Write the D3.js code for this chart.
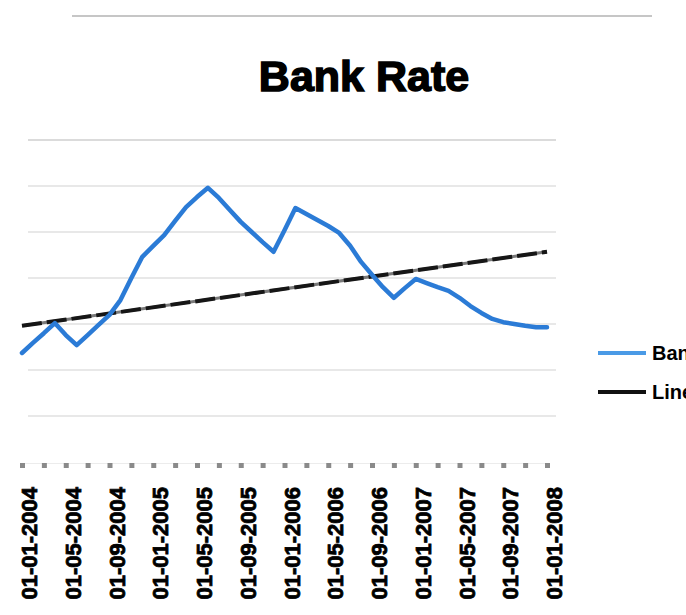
<!DOCTYPE html>
<html>
<head>
<meta charset="utf-8">
<script src="https://cdn.jsdelivr.net/npm/d3@7"></script>
<style>
  body { margin: 0; background: #fff; overflow: hidden; }
  svg { display: block; }
</style>
</head>
<body>
<div id="chart"></div>
<script>
// monthly categories
const months = [
    "01-01-2004", "01-02-2004", "01-03-2004", "01-04-2004", "01-05-2004", "01-06-2004",
    "01-07-2004", "01-08-2004", "01-09-2004", "01-10-2004", "01-11-2004", "01-12-2004",
    "01-01-2005", "01-02-2005", "01-03-2005", "01-04-2005", "01-05-2005", "01-06-2005",
    "01-07-2005", "01-08-2005", "01-09-2005", "01-10-2005", "01-11-2005", "01-12-2005",
    "01-01-2006", "01-02-2006", "01-03-2006", "01-04-2006", "01-05-2006", "01-06-2006",
    "01-07-2006", "01-08-2006", "01-09-2006", "01-10-2006", "01-11-2006", "01-12-2006",
    "01-01-2007", "01-02-2007", "01-03-2007", "01-04-2007", "01-05-2007", "01-06-2007",
    "01-07-2007", "01-08-2007", "01-09-2007", "01-10-2007", "01-11-2007", "01-12-2007",
    "01-01-2008"
];

const bankRate = [
    2.37, 2.59, 2.80, 3.02, 2.76, 2.54, 2.76, 2.98, 3.20, 3.52,
    4.00, 4.46, 4.70, 4.93, 5.24, 5.54, 5.76, 5.96, 5.74, 5.48,
    5.22, 5.00, 4.78, 4.57, 5.04, 5.52, 5.39, 5.26, 5.13, 4.98,
    4.70, 4.35, 4.07, 3.80, 3.57, 3.78, 3.98, 3.89, 3.80, 3.72,
    3.57, 3.39, 3.24, 3.11, 3.04, 3.00, 2.96, 2.93, 2.93
];

// linear trend, start and end value
const trendEnds = [2.96, 4.57];

const tickMarks = [
    "01-01-2004", "01-03-2004", "01-05-2004", "01-07-2004", "01-09-2004", "01-11-2004",
    "01-01-2005", "01-03-2005", "01-05-2005", "01-07-2005", "01-09-2005", "01-11-2005",
    "01-01-2006", "01-03-2006", "01-05-2006", "01-07-2006", "01-09-2006", "01-11-2006",
    "01-01-2007", "01-03-2007", "01-05-2007", "01-07-2007", "01-09-2007", "01-11-2007",
    "01-01-2008"
];

const tickLabels = [
    "01-01-2004", "01-05-2004", "01-09-2004", "01-01-2005", "01-05-2005", "01-09-2005",
    "01-01-2006", "01-05-2006", "01-09-2006", "01-01-2007", "01-05-2007", "01-09-2007",
    "01-01-2008"
];

const gridValues = [1, 2, 3, 4, 5, 6, 7];

const width = 686, height = 615;

const svg = d3.select("#chart")
    .append("svg")
    .attr("width", width)
    .attr("height", height);

const x = d3.scalePoint()
    .domain(months)
    .range([22, 547]);

const y = d3.scaleLinear()
    .domain([0, 7])
    .range([462, 140]);

// faint rule at the very top
svg.append("line")
    .attr("x1", 72).attr("x2", 652)
    .attr("y1", 16).attr("y2", 16)
    .attr("stroke", "#c6c6c6")
    .attr("stroke-width", 2);

svg.append("text")
    .attr("x", 364)
    .attr("y", 91)
    .attr("text-anchor", "middle")
    .style("font-family", "'Liberation Sans', Arial, sans-serif")
    .style("font-weight", "bold")
    .style("font-size", "43px")
    .attr("fill", "#000")
    .attr("stroke", "#000")
    .attr("stroke-width", 1.5)
    .text("Bank Rate");

// gridlines
svg.append("g")
    .selectAll("line")
    .data(gridValues)
    .enter().append("line")
    .attr("x1", 28)
    .attr("x2", 556)
    .attr("y1", d => y(d))
    .attr("y2", d => y(d))
    .attr("stroke", d => d === 7 ? "#cfcfcf" : "#e0e0e0")
    .attr("stroke-width", 1.5);

// tick marks along the category axis
const tickAxis = svg.append("g")
    .attr("transform", `translate(0,${y(0) + 1})`)
    .call(d3.axisBottom(x).tickValues(tickMarks).tickSize(5).tickFormat(""));
tickAxis.select(".domain").attr("stroke", "#ececec");
tickAxis.selectAll(".tick line")
    .attr("stroke", "#8a8a8a")
    .attr("stroke-width", 5);

// rotated labels
const labelAxis = svg.append("g")
    .attr("transform", "translate(0,475)")
    .call(d3.axisBottom(x).tickValues(tickLabels).tickSize(0));
labelAxis.select(".domain").remove();
labelAxis.selectAll("text")
    .attr("transform", "rotate(-90)")
    .attr("x", -12)
    .attr("y", 7)
    .attr("dy", "0.35em")
    .style("text-anchor", "end")
    .style("font-family", "'Liberation Sans', Arial, sans-serif")
    .style("font-weight", "bold")
    .style("font-size", "22px")
    .attr("fill", "#000")
    .attr("stroke", "#000")
    .attr("stroke-width", 0.8);

// trend line
const trendLine = d3.line()
    .x(d => x(d[0]))
    .y(d => y(d[1]));
const trendData = [[months[0], trendEnds[0]], [months[months.length - 1], trendEnds[1]]];

svg.append("path")
    .datum(trendData)
    .attr("d", trendLine)
    .attr("fill", "none")
    .attr("stroke", "#7a7a7a")
    .attr("stroke-width", 3);

svg.append("path")
    .datum(trendData)
    .attr("d", trendLine)
    .attr("fill", "none")
    .attr("stroke", "#161616")
    .attr("stroke-width", 4)
    .attr("stroke-dasharray", "20,5");

// bank rate
const rateLine = d3.line()
    .x((d, i) => x(months[i]))
    .y(d => y(d));

svg.append("path")
    .datum(bankRate)
    .attr("d", rateLine)
    .attr("fill", "none")
    .attr("stroke", "#2b7bd6")
    .attr("stroke-width", 4.5)
    .attr("stroke-linejoin", "round")
    .attr("stroke-linecap", "round");

// legend (runs off the right edge, as in the source picture)
const legend = [
    { name: "Bank Rate", color: "#4a9ae6", y: 353 },
    { name: "Linear (Bank Rate)", color: "#111", y: 392 }
];

const lg = svg.append("g")
    .selectAll("g")
    .data(legend)
    .enter().append("g")
    .attr("transform", d => `translate(598,${d.y})`);

lg.append("line")
    .attr("x1", 0).attr("x2", 48)
    .attr("stroke", d => d.color)
    .attr("stroke-width", 4);

lg.append("text")
    .attr("x", 54)
    .attr("dy", "0.35em")
    .style("font-family", "'Liberation Sans', Arial, sans-serif")
    .style("font-weight", "bold")
    .style("font-size", "20px")
    .attr("fill", "#000")
    .text(d => d.name);
</script>
</body>
</html>
